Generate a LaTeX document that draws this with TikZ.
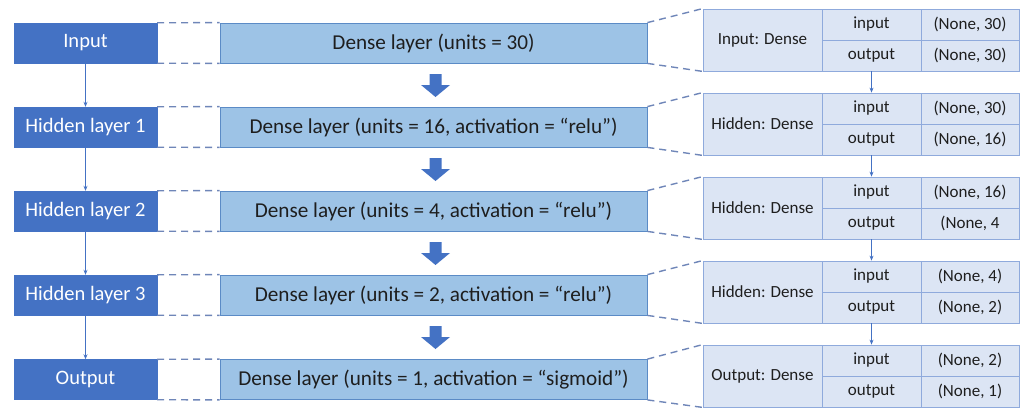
\documentclass[tikz,border=0pt]{standalone}
\usepackage{fontspec}
\setmainfont{Carlito}
\usetikzlibrary{arrows.meta}
\definecolor{dblue}{HTML}{4472C4}
\definecolor{mblue}{HTML}{9DC3E6}
\definecolor{mborder}{HTML}{5B8BC6}
\definecolor{tfill}{HTML}{DCE5F4}
\definecolor{tborder}{HTML}{8FAADC}
\definecolor{txt}{HTML}{1E1E1E}
\definecolor{dashc}{HTML}{6F86B8}
\tikzset{
  leftbox/.style={fill=dblue, draw=dblue, text=white, minimum width=143pt, minimum height=40pt, inner sep=0pt, font=\fontsize{20.5}{24}\selectfont},
  midbox/.style={fill=mblue, draw=mborder, line width=0.8pt, text=txt, minimum width=427pt, minimum height=40pt, inner sep=0pt, font=\fontsize{21.2}{25}\selectfont},
  cellfont/.style={font=\fontsize{17}{20}\selectfont},
  namecell/.style={fill=tfill, draw=tborder, line width=0.8pt, text=txt, minimum width=119pt, minimum height=62pt, inner sep=0pt, cellfont},
  iocell/.style={fill=tfill, draw=tborder, line width=0.8pt, text=txt, minimum width=99pt, minimum height=31pt, inner sep=0pt, cellfont},
  valcell/.style={fill=tfill, draw=tborder, line width=0.8pt, text=txt, minimum width=98pt, minimum height=31pt, inner sep=0pt, cellfont},
  dashcon/.style={draw=dashc, dash pattern=on 7pt off 5pt, line width=1.4pt},
  thinarrow/.style={draw=dblue, line width=0.8pt, -{Stealth[length=5pt,width=4pt]}},
  bigarrow/.style={fill=dblue}
}
\begin{document}
\begin{tikzpicture}[x=1pt,y=-1pt]
\useasboundingbox (0,0) rectangle (1024,407);
% left boxes
\node[leftbox] (L1) at (85.5,43) {Input};
\node[leftbox] (L2) at (85.5,127) {Hidden layer 1};
\node[leftbox] (L3) at (85.5,211) {Hidden layer 2};
\node[leftbox] (L4) at (85.5,295) {Hidden layer 3};
\node[leftbox] (L5) at (85.5,379.5) {Output};
% middle boxes
\node[midbox] (M1) at (433.5,43) {Dense layer (units = 30)};
\node[midbox] (M2) at (433.5,127) {Dense layer (units = 16, activation = “relu”)};
\node[midbox] (M3) at (433.5,211) {Dense layer (units = 4, activation = “relu”)};
\node[midbox] (M4) at (433.5,295) {Dense layer (units = 2, activation = “relu”)};
\node[midbox] (M5) at (433.5,379.5) {Dense layer (units = 1, activation = “sigmoid”)};
% big arrows
\foreach \i/\y in {1/74,2/158,3/242,4/326}{
  \coordinate (B\i) at (435.5,\y);
  \fill[bigarrow] (B\i) ++(-6,0) -- ++(12,0) -- ++(0,11) -- ++(8.5,0) -- ++(-14.5,12) -- ++(-14.5,-12) -- ++(8.5,0) -- cycle;
}
% tables
\foreach \i/\nm/\a/\b in {1/{Input: Dense}/{(None, 30)}/{(None, 30)},
                          2/{Hidden: Dense}/{(None, 30)}/{(None, 16)},
                          3/{Hidden: Dense}/{(None, 16)}/{(None, 4},
                          4/{Hidden: Dense}/{(None, 4)}/{(None, 2)},
                          5/{Output: Dense}/{(None, 2)}/{(None, 1)}}{
  \pgfmathsetmacro{\T}{9+84*(\i-1)}
  \node[namecell] (N\i) at (762.5,\T+31) {\nm};
  \node[iocell] (I\i) at (871.5,\T+15.5) {input};
  \node[iocell] (O\i) at (871.5,\T+46.5) {output};
  \node[valcell] (VI\i) at (970,\T+15.5) {\a};
  \node[valcell] (VO\i) at (970,\T+46.5) {\b};
}
% dashed connectors
\foreach \i in {1,...,5}{
  \draw[dashcon] (L\i.north east) -- (M\i.north west);
  \draw[dashcon] (L\i.south east) -- (M\i.south west);
  \draw[dashcon] (M\i.north east) -- (N\i.north west);
  \draw[dashcon] (M\i.south east) -- (N\i.south west);
}
% thin arrows
\foreach \i/\j in {1/2,2/3,3/4,4/5}{
  \draw[thinarrow] (L\i.south) -- (L\j.north);
  \draw[thinarrow] (O\i.south) -- (I\j.north);
}
\end{tikzpicture}
\end{document}
